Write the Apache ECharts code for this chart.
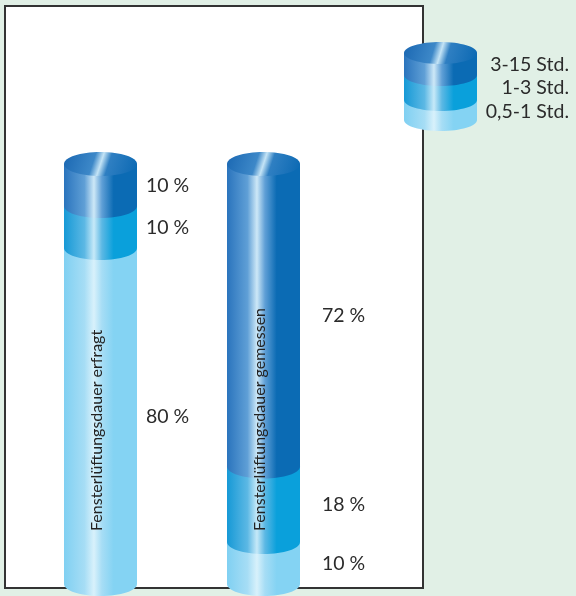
<!DOCTYPE html>
<html>
<head>
<meta charset="utf-8">
<script src="https://cdn.jsdelivr.net/npm/echarts@6/dist/echarts.min.js"></script>
<style>
html,body{margin:0;padding:0;background:#e1f0e6;}
#chart{width:576px;height:596px;}
</style>
</head>
<body>
<div id="chart"></div>
<script>
// ---- data ----
const categories = ['Fensterlüftungsdauer erfragt', 'Fensterlüftungsdauer gemessen'];
const bandNames = ['0,5-1 Std.', '1-3 Std.', '3-15 Std.'];
const short = [80, 10];   // 0,5-1 Std.
const medium = [10, 18];  // 1-3 Std.
const long = [10, 72];    // 3-15 Std.
const bandValues = [short, medium, long];

// ---- styles ----
const FONT = 'Lato, "Open Sans", sans-serif';
const BAR_W = 73, RY = 12;
const labelGap = [9, 22];
function sideGrad(c) {
  return new echarts.graphic.LinearGradient(0, 0, 1, 0, [
    {offset: 0, color: c[0]}, {offset: 0.28, color: c[1]}, {offset: 0.41, color: c[2]},
    {offset: 0.52, color: c[1]}, {offset: 0.68, color: c[3]}, {offset: 1, color: c[3]}
  ]);
}
const palettes = [
  ['#80d0f2', '#a6ddf5', '#d8f1fb', '#84d3f3'],
  ['#1699d6', '#5cb8e4', '#c6e9f8', '#0aa0db'],
  ['#2a74bd', '#5f9fd6', '#cde8f7', '#0b6bb4']
];
function topGrad() {
  return new echarts.graphic.LinearGradient(0, 0, 1, 1, [
    {offset: 0, color: '#1a67b2'}, {offset: 0.4, color: '#3d88c8'},
    {offset: 0.5, color: '#c4e4f6'}, {offset: 0.6, color: '#2f7fc2'}, {offset: 1, color: '#0a68b2'}
  ]);
}

// stacked ranges
const series = bandValues.map(function (vals, si) {
  const data = vals.map(function (v, ci) {
    let base = 0;
    for (let k = 0; k < si; k++) base += bandValues[k][ci];
    return [ci, base, base + v, v];
  });
  return {
    type: 'custom',
    name: bandNames[si],
    data: data,
    renderItem: function (params, api) {
      const ci = api.value(0), b = api.value(1), t = api.value(2), v = api.value(3);
      const pb = api.coord([ci, b]);
      const pt = api.coord([ci, t]);
      const cx = pb[0], x = cx - BAR_W / 2;
      const pal = palettes[params.seriesIndex];
      const z = params.seriesIndex * 10;
      const children = [
        {type: 'rect', z2: z, shape: {x: x, y: pt[1], width: BAR_W, height: pb[1] - pt[1]}, style: {fill: sideGrad(pal)}},
        {type: 'ellipse', z2: z + 1, shape: {cx: cx, cy: pb[1], rx: BAR_W / 2, ry: RY}, style: {fill: sideGrad(pal)}}
      ];
      if (params.seriesIndex === bandValues.length - 1) {
        children.push({type: 'ellipse', z2: z + 2, shape: {cx: cx, cy: pt[1], rx: BAR_W / 2, ry: RY}, style: {fill: topGrad()}});
      }
      children.push({
        type: 'text', z2: 200,
        x: x + BAR_W + labelGap[ci], y: (pb[1] + pt[1]) / 2 + 1,
        style: {text: v + ' %', font: '19.5px ' + FONT, fill: '#2b2b2b', align: 'left', verticalAlign: 'middle'}
      });
      if (params.seriesIndex === 0) {
        children.push({
          type: 'text', z2: 300,
          x: cx - 4, y: pb[1] - 53, rotation: Math.PI / 2,
          style: {text: categories[ci], font: '16px ' + FONT, fill: '#222', align: 'left', verticalAlign: 'middle'}
        });
      }
      return {type: 'group', children: children};
    }
  };
});

// legend graphic (cylinder icon + names)
const lg = {x: 404, w: 73, top: 53, bounds: [75, 100, 120], ry: 11};
const legendChildren = [];
const lpal = [palettes[2], palettes[1], palettes[0]];
const segs = [[lg.top, lg.bounds[0]], [lg.bounds[0], lg.bounds[1]], [lg.bounds[1], lg.bounds[2]]];
for (let i = segs.length - 1; i >= 0; i--) {
  const s = segs[i];
  legendChildren.push({type: 'rect', shape: {x: lg.x, y: s[0], width: lg.w, height: s[1] - s[0]}, style: {fill: sideGrad(lpal[i])}});
  legendChildren.push({type: 'ellipse', shape: {cx: lg.x + lg.w / 2, cy: s[1], rx: lg.w / 2, ry: lg.ry}, style: {fill: sideGrad(lpal[i])}});
}
legendChildren.push({type: 'ellipse', shape: {cx: lg.x + lg.w / 2, cy: lg.top, rx: lg.w / 2, ry: lg.ry}, style: {fill: topGrad()}});
const legendTextY = [65, 88, 112];
[2, 1, 0].forEach(function (bi, k) {
  legendChildren.push({type: 'text', x: 569, y: legendTextY[k],
    style: {text: bandNames[bi], font: '19.5px ' + FONT, fill: '#2b2b2b', align: 'right', verticalAlign: 'middle'}});
});

const chart = echarts.init(document.getElementById('chart'), null, {renderer: 'canvas'});
chart.setOption({
  backgroundColor: '#e1f0e6',
  animation: false,
  grid: {left: 19, width: 326, top: 164, height: 420},
  xAxis: {type: 'category', data: categories, show: false},
  yAxis: {type: 'value', min: 0, max: 100, show: false},
  graphic: [
    {type: 'rect', z: -10, shape: {x: 5, y: 6, width: 418, height: 582}, style: {fill: '#ffffff', stroke: '#333333', lineWidth: 2}},
    {type: 'group', z: 10, children: legendChildren}
  ],
  series: series
});
</script>
</body>
</html>
